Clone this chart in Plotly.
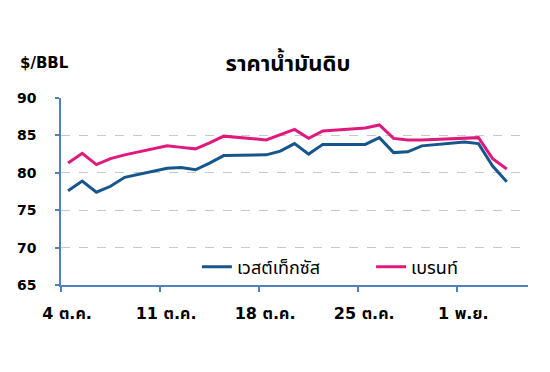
import plotly.graph_objects as go

dates = ["2021-10-04", "2021-10-05", "2021-10-06", "2021-10-07", "2021-10-08",
         "2021-10-11", "2021-10-12", "2021-10-13", "2021-10-14", "2021-10-15",
         "2021-10-18", "2021-10-19", "2021-10-20", "2021-10-21", "2021-10-22",
         "2021-10-25", "2021-10-26", "2021-10-27", "2021-10-28", "2021-10-29",
         "2021-11-01", "2021-11-02", "2021-11-03", "2021-11-04"]
wti = [77.6, 78.9, 77.4, 78.2, 79.4, 80.6, 80.7, 80.4, 81.3, 82.3,
       82.4, 82.9, 83.9, 82.5, 83.8, 83.8, 84.7, 82.7, 82.8, 83.6,
       84.1, 83.9, 80.9, 78.8]
brent = [81.3, 82.6, 81.1, 81.9, 82.4, 83.6, 83.4, 83.2, 84.0, 84.9,
         84.4, 85.1, 85.8, 84.6, 85.6, 86.0, 86.4, 84.6, 84.4, 84.4,
         84.7, 84.7, 81.9, 80.5]
tick_dates = ["2021-10-04", "2021-10-11", "2021-10-18", "2021-10-25", "2021-11-01"]
tick_labels = ["4 ต.ค.", "11 ต.ค.", "18 ต.ค.", "25 ต.ค.", "1 พ.ย."]
y_ticks = [65, 70, 75, 80, 85, 90]
series_names = ["เวสต์เท็กซัส", "เบรนท์"]
title_text = "ราคาน้ำมันดิบ"
unit_text = "$/BBL"

# points sit in the middle of each day (date axis, between tick marks)
x_mid = [d + " 12:00" for d in dates]

FONT = "DejaVu Sans, Noto Sans Thai, Tahoma, sans-serif"
BLUE = "#17568c"
PINK = "#e0197d"
AXIS = "#4f81bd"

W, H = 534, 356  # page adds an 8px body margin on every side

fig = go.Figure()
fig.add_trace(go.Scatter(x=x_mid, y=wti, mode="lines", name=series_names[0],
                         line=dict(color=BLUE, width=3), legend="legend"))
fig.add_trace(go.Scatter(x=x_mid, y=brent, mode="lines", name=series_names[1],
                         line=dict(color=PINK, width=3), legend="legend2"))

legend_style = dict(orientation="h", xanchor="left", y=0.096, yanchor="middle",
                    font=dict(size=18, color="black", family=FONT),
                    bgcolor="rgba(0,0,0,0)", itemwidth=30)

fig.update_layout(
    width=W, height=H,
    margin=dict(l=53, r=14, t=90, b=79),
    paper_bgcolor="white", plot_bgcolor="white",
    font=dict(family=FONT, color="black", size=14),
    title=dict(text="<b>" + title_text + "</b>", x=280 / W, xanchor="center",
               y=1 - 55 / H, yref="container", yanchor="middle",
               font=dict(size=22, color="black")),
    showlegend=True,
    legend=dict(x=0.291, **legend_style),
    legend2=dict(x=0.664, **legend_style),
    xaxis=dict(type="date", range=["2021-10-04", "2021-11-06"],
               tickvals=tick_dates, ticktext=["<b>" + t + "</b>" for t in tick_labels],
               ticks="outside", ticklen=5, tickwidth=1.5, tickcolor=AXIS,
               showline=True, linecolor=AXIS, linewidth=1.5,
               showgrid=False, zeroline=False, automargin=False,
               ticklabelshift=6, ticklabelstandoff=8,
               tickfont=dict(size=16, color="black")),
    yaxis=dict(range=[65, 90], tickvals=y_ticks,
               ticktext=["<b>%d</b>" % v for v in y_ticks],
               ticks="outside", ticklen=4, tickwidth=1.5, tickcolor=AXIS,
               showline=True, linecolor=AXIS, linewidth=1.5,
               showgrid=True, gridcolor="#c8c8c8", griddash="dash", gridwidth=1,
               zeroline=False, automargin=False, ticklabelstandoff=16,
               tickfont=dict(size=14, color="black")),
)

fig.add_annotation(text="<b>" + unit_text + "</b>", xref="paper", yref="paper",
                   x=(10 - 53) / 467, xanchor="left",
                   y=(277 - 55) / 187, yanchor="middle",
                   showarrow=False, font=dict(size=15, color="black"))

fig.write_html("out.html")
